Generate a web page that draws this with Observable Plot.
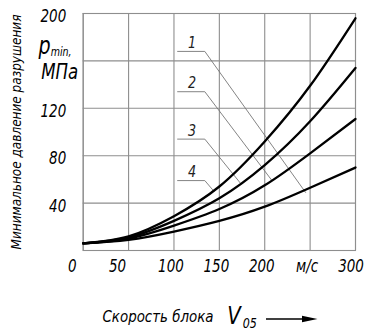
<!DOCTYPE html>
<html><head><meta charset="utf-8">
<script src="https://cdn.jsdelivr.net/npm/d3@7"></script>
<script src="https://cdn.jsdelivr.net/npm/@observablehq/plot@0.6"></script>
<style>
html,body{margin:0;padding:0;background:#fff;}
#chart svg{display:block;}
</style>
</head><body><div id="chart"></div>
<script>
// ---- data ----
const speeds = [0, 50, 100, 150, 200, 250, 300];           // м/с
const curve1 = [6, 9, 16, 25, 37, 53, 70];                 // МПа (lowest)
const curve2 = [6, 10, 21, 35, 55, 82, 111];
const curve3 = [6, 11, 25, 44, 72, 109, 154];
const curve4 = [6, 12, 29, 54, 92, 139, 196];              // highest
const curveNames = ["1", "2", "3", "4"];

const xTicks = [0, 50, 100, 150, 200, 250, 300];
const xTickLabels = ["0", "50", "100", "150", "200", "м/с", "300"];
const yGrid = [0, 40, 80, 120, 160, 200];
const yTicks = [40, 80, 120, 200];

// leader lines (callouts) for the curve numbers
const leaderNames = ["1", "2", "3", "4"];
const leaderLevel = [168, 134, 94, 59];
const leaderStart = [104, 104, 104, 104];
const leaderEnd = [134, 134, 134, 134];
const leaderTargetX = [245, 208, 173, 144];
const leaderTargetY = [49, 59, 57, 50];

const yTitle = "Минимальное давление разрушения";
const xTitle = "Скорость блока";

// ---- build tables ----
const allCurves = [curve1, curve2, curve3, curve4];
const curves = allCurves.flatMap((vals, k) =>
  speeds.map((s, i) => ({name: curveNames[k], speed: s, p: vals[i]})));

const leaders = leaderNames.flatMap((n, i) => [
  {name: n, x: leaderStart[i], y: leaderLevel[i]},
  {name: n, x: leaderEnd[i], y: leaderLevel[i]},
  {name: n, x: leaderTargetX[i], y: leaderTargetY[i]}
]);
const leaderLabels = leaderNames.map((n, i) => ({name: n, x: (leaderStart[i] + leaderEnd[i]) / 2 + 1, y: leaderLevel[i]}));

const FONT = '"Liberation Sans Narrow", "DejaVu Sans Condensed", "Liberation Sans", sans-serif';
const GRID = "#8e8e8e";

const plot = Plot.plot({
  width: 367, height: 331,
  marginLeft: 82.7, marginRight: 12, marginTop: 13, marginBottom: 81,
  x: {domain: [0, 300], axis: null},
  y: {domain: [0, 200], axis: null},
  style: {fontFamily: FONT, fontStyle: "italic", background: "#fff", color: "#000"},
  marks: [
    Plot.ruleX(xTicks, {stroke: GRID, strokeWidth: 1.1}),
    Plot.ruleY(yGrid, {stroke: GRID, strokeWidth: 1.1}),
    Plot.frame({stroke: GRID, strokeWidth: 1.1}),
    Plot.line(leaders, {x: "x", y: "y", z: "name", stroke: "#767676", strokeWidth: 0.9}),
    Plot.line(curves, {x: "speed", y: "p", z: "name", curve: "natural", stroke: "#000", strokeWidth: 2.3}),
    Plot.text(leaderLabels, {x: "x", y: "y", text: "name", lineAnchor: "bottom", dy: -3.5, fontSize: 16, fill: "#222"}),
    // x tick labels
    Plot.text(xTicks.slice(0, 2), {x: d => d, text: d => xTickLabels[xTicks.indexOf(d)], frameAnchor: "bottom", textAnchor: "middle", dy: 21.5, dx: -11, fontSize: 17}),
    Plot.text(xTicks.slice(2, 6), {x: d => d, text: d => xTickLabels[xTicks.indexOf(d)], frameAnchor: "bottom", textAnchor: "middle", dy: 21.5, dx: -3, fontSize: 17}),
    Plot.text(xTicks.slice(6), {x: d => d, text: d => xTickLabels[xTicks.indexOf(d)], frameAnchor: "bottom", textAnchor: "middle", dy: 21.5, dx: -4.5, fontSize: 17}),
    // y tick labels
    Plot.text(yTicks, {y: d => d, text: d => String(d), frameAnchor: "left", textAnchor: "end", dx: -17, dy: 3, fontSize: 17}),
    // y unit label p_min, МПа
    Plot.text(["p"], {frameAnchor: "top-left", textAnchor: "start", lineAnchor: "bottom", dx: -44.7, dy: 40, fontSize: 24}),
    Plot.text(["min,"], {frameAnchor: "top-left", textAnchor: "start", lineAnchor: "bottom", dx: -32.5, dy: 42, fontSize: 12}),
    Plot.text(["МПа"], {frameAnchor: "top-left", textAnchor: "start", lineAnchor: "bottom", dx: -42, dy: 65, fontSize: 21}),
    // y title
    Plot.text([yTitle], {frameAnchor: "left", textAnchor: "middle", lineAnchor: "middle", rotate: -90, dx: -67, fontSize: 14.5}),
    // x title
    Plot.text([xTitle], {frameAnchor: "bottom-left", textAnchor: "start", lineAnchor: "bottom", dx: 19.3, dy: 71.7, fontSize: 16.5}),
    Plot.text(["V"], {frameAnchor: "bottom-left", textAnchor: "start", lineAnchor: "bottom", dx: 144, dy: 73, fontSize: 25}),
    Plot.text(["05"], {frameAnchor: "bottom-left", textAnchor: "start", lineAnchor: "bottom", dx: 159.5, dy: 77, fontSize: 14})
  ]
});

document.getElementById("chart").appendChild(plot);

// narrow the glyphs to imitate the drafting (GOST) italic font
const svg = d3.select(plot);
svg.selectAll("text").each(function() {
  const len = this.getComputedTextLength();
  const txt = this.textContent;
  let f = 0.88;
  if (txt === yTitle) f = 235 / len;
  if (txt === xTitle) f = 111 / len;
  if (len > 0 && f < 1) {
    this.setAttribute("textLength", (len * f).toFixed(1));
    this.setAttribute("lengthAdjust", "spacingAndGlyphs");
  }
});

// arrow after the x-axis title
const g = svg.append("g");
g.append("line").attr("x1", 266).attr("x2", 305).attr("y1", 319).attr("y2", 319)
  .attr("stroke", "#000").attr("stroke-width", 1.3);
g.append("path").attr("d", "M302,315.8 L317.5,319 L302,322.2 Z").attr("fill", "#000");
</script>
</body></html>
